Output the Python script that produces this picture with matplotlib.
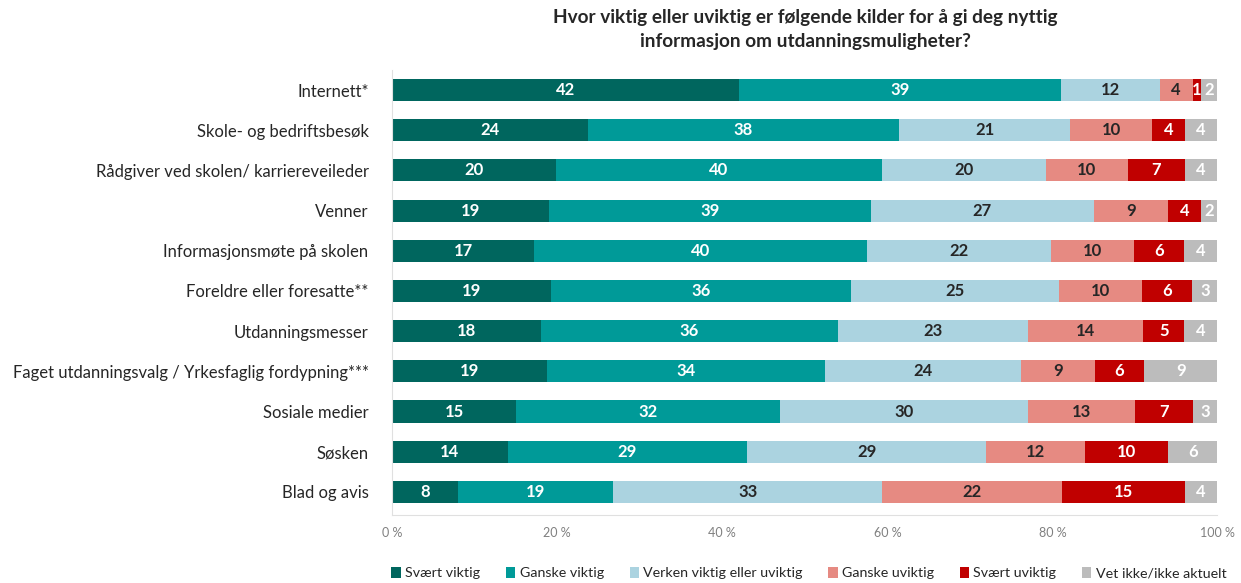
import numpy as np
import matplotlib.pyplot as plt

plt.rcParams['font.family'] = ['Lato', 'DejaVu Sans']

kilder = ['Internett*', 'Skole- og bedriftsbesøk', 'Rådgiver ved skolen/ karriereveileder',
          'Venner', 'Informasjonsmøte på skolen', 'Foreldre eller foresatte**',
          'Utdanningsmesser', 'Faget utdanningsvalg / Yrkesfaglig fordypning***',
          'Sosiale medier', 'Søsken', 'Blad og avis']

svaert_viktig = [42, 24, 20, 19, 17, 19, 18, 19, 15, 14, 8]
ganske_viktig = [39, 38, 40, 39, 40, 36, 36, 34, 32, 29, 19]
verken = [12, 21, 20, 27, 22, 25, 23, 24, 30, 29, 33]
ganske_uviktig = [4, 10, 10, 9, 10, 10, 14, 9, 13, 12, 22]
svaert_uviktig = [1, 4, 7, 4, 6, 6, 5, 6, 7, 10, 15]
vet_ikke = [2, 4, 4, 2, 4, 3, 4, 9, 3, 6, 4]

serier = ['Svært viktig', 'Ganske viktig', 'Verken viktig eller uviktig',
          'Ganske uviktig', 'Svært uviktig', 'Vet ikke/ikke aktuelt']
farger = ['#00665e', '#009a98', '#abd3e0', '#e68a82', '#c00000', '#bcbcbc']
tekstfarger = ['white', 'white', '#262626', '#262626', 'white', 'white']

data = np.array([svaert_viktig, ganske_viktig, verken, ganske_uviktig, svaert_uviktig, vet_ikke], dtype=float)
andel = data / data.sum(axis=0) * 100  # fyll hele raden til 100 %

fig = plt.figure(figsize=(12.41, 5.83), dpi=100)
ax = fig.add_axes([0.316, 0.117, 0.665, 0.763])

y = np.arange(len(kilder))
venstre = np.zeros(len(kilder))
for i in range(len(serier)):
    ax.barh(y, andel[i], left=venstre, height=0.55, color=farger[i], label=serier[i])
    for j in range(len(kilder)):
        ax.text(venstre[j] + andel[i][j] / 2, y[j], f'{int(data[i][j])}', ha='center', va='center',
                color=tekstfarger[i], fontsize=12, fontweight='bold')
    venstre += andel[i]

ax.set_xlim(0, 100)
ax.set_ylim(10.57, -0.5)
ax.set_yticks(y)
ax.set_yticklabels(kilder, fontsize=12, color='#262626')
ax.set_xticks(np.arange(0, 101, 20))
ax.set_xticklabels([f'{v} %' for v in range(0, 101, 20)], fontsize=9, color='#808080')
ax.tick_params(axis='both', length=0)
ax.tick_params(axis='y', pad=17)
ax.tick_params(axis='x', pad=9)
for s in ['top', 'right']:
    ax.spines[s].set_visible(False)
for s in ['left', 'bottom']:
    ax.spines[s].set_color('#e0e0e0')

fig.suptitle('Hvor viktig eller uviktig er følgende kilder for å gi deg nyttig\ninformasjon om utdanningsmuligheter?',
             x=0.649, y=0.985, fontsize=13.7, fontweight='bold', color='#262626', linespacing=1.5)

fig.legend(*ax.get_legend_handles_labels(), loc='center', bbox_to_anchor=(809 / 1241, 1 - 573 / 583),
           ncol=6, frameon=False, fontsize=10.3, borderpad=0, borderaxespad=0,
           handlelength=0.65, handleheight=0.8, handletextpad=0.3, columnspacing=1.8, labelcolor='#262626')

fig.savefig('out.png', dpi=100)
